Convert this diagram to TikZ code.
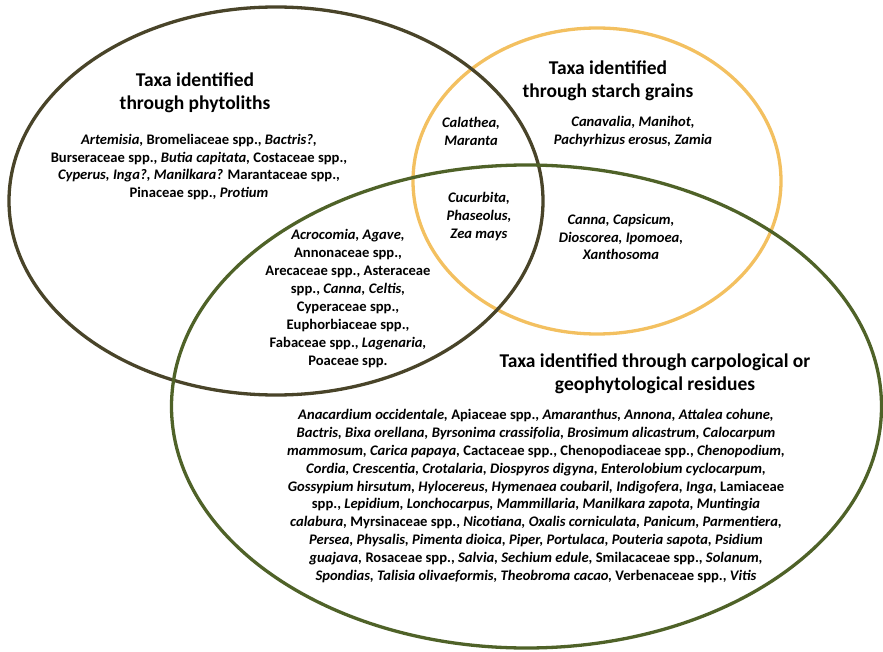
\documentclass[tikz,border=0pt]{standalone}
\usepackage{fontspec}
\setmainfont{Carlito}
\definecolor{phyto}{HTML}{494429}
\definecolor{starch}{HTML}{F3C060}
\definecolor{carpo}{HTML}{4F6228}
\begin{document}
\begin{tikzpicture}[x=1pt,y=-1pt,
  ring/.style={line width=3.3pt},
  titletext/.style={align=center,inner sep=0pt,font=\fontsize{19.5}{23}\selectfont\bfseries},
  bodytext/.style={align=center,inner sep=0pt,font=\fontsize{14.6}{17.9}\selectfont\bfseries}]
\useasboundingbox (0,0) rectangle (883,652);
\draw[ring,starch] (597,181) ellipse [x radius=184pt, y radius=153pt];
\draw[ring,phyto] (276,201) ellipse [x radius=267pt, y radius=194pt];
\draw[ring,carpo] (526.5,406.5) ellipse [x radius=355pt, y radius=241.5pt];

\node[titletext] (tphy) at (195,93) {Taxa identified\\through phytoliths};
\node[bodytext] (bphy) at (199,167) {\textit{Artemisia,} Bromeliaceae spp., \textit{Bactris?,}\\
Burseraceae spp., \textit{Butia capitata,} Costaceae spp.,\\
\textit{Cyperus, Inga?, Manilkara?} Marantaceae spp.,\\
Pinaceae spp., \textit{Protium}};

\node[titletext] (tsta) at (608,81) {Taxa identified\\through starch grains};
\node[bodytext] (bps) at (471,131.5) {\textit{Calathea,}\\\textit{Maranta}};
\node[bodytext] (bsta) at (633,131.5) {\textit{Canavalia, Manihot,}\\\textit{Pachyrhizus erosus, Zamia}};
\node[bodytext] (ball) at (479,216.5) {\textit{Cucurbita,}\\\textit{Phaseolus,}\\\textit{Zea mays}};
\node[bodytext] (bsc) at (621,237) {\textit{Canna, Capsicum,}\\\textit{Dioscorea, Ipomoea,}\\\textit{Xanthosoma}};
\node[bodytext] (bpc) at (348,298.5) {\textit{Acrocomia, Agave,}\\Annonaceae spp.,\\Arecaceae spp., Asteraceae\\spp., \textit{Canna, Celtis,}\\Cyperaceae spp.,\\Euphorbiaceae spp.,\\Fabaceae spp., \textit{Lagenaria,}\\Poaceae spp.};

\node[titletext] (tcar) at (655,373.5) {Taxa identified through carpological or\\geophytological residues};
\node[bodytext] (bcar) at (536,496) {\textit{Anacardium occidentale,} Apiaceae spp., \textit{Amaranthus, Annona, Attalea cohune,}\\
\textit{Bactris, Bixa orellana, Byrsonima crassifolia, Brosimum alicastrum, Calocarpum}\\
\textit{mammosum, Carica papaya,} Cactaceae spp., Chenopodiaceae spp., \textit{Chenopodium,}\\
\textit{Cordia, Crescentia, Crotalaria, Diospyros digyna, Enterolobium cyclocarpum,}\\
\textit{Gossypium hirsutum, Hylocereus, Hymenaea coubaril, Indigofera, Inga,} Lamiaceae\\
spp., \textit{Lepidium, Lonchocarpus, Mammillaria, Manilkara zapota, Muntingia}\\
\textit{calabura,} Myrsinaceae spp., \textit{Nicotiana, Oxalis corniculata, Panicum, Parmentiera,}\\
\textit{Persea, Physalis, Pimenta dioica, Piper, Portulaca, Pouteria sapota, Psidium}\\
\textit{guajava,} Rosaceae spp., \textit{Salvia, Sechium edule,} Smilacaceae spp., \textit{Solanum,}\\
\textit{Spondias, Talisia olivaeformis, Theobroma cacao,} Verbenaceae spp., \textit{Vitis}};
\end{tikzpicture}
\end{document}
